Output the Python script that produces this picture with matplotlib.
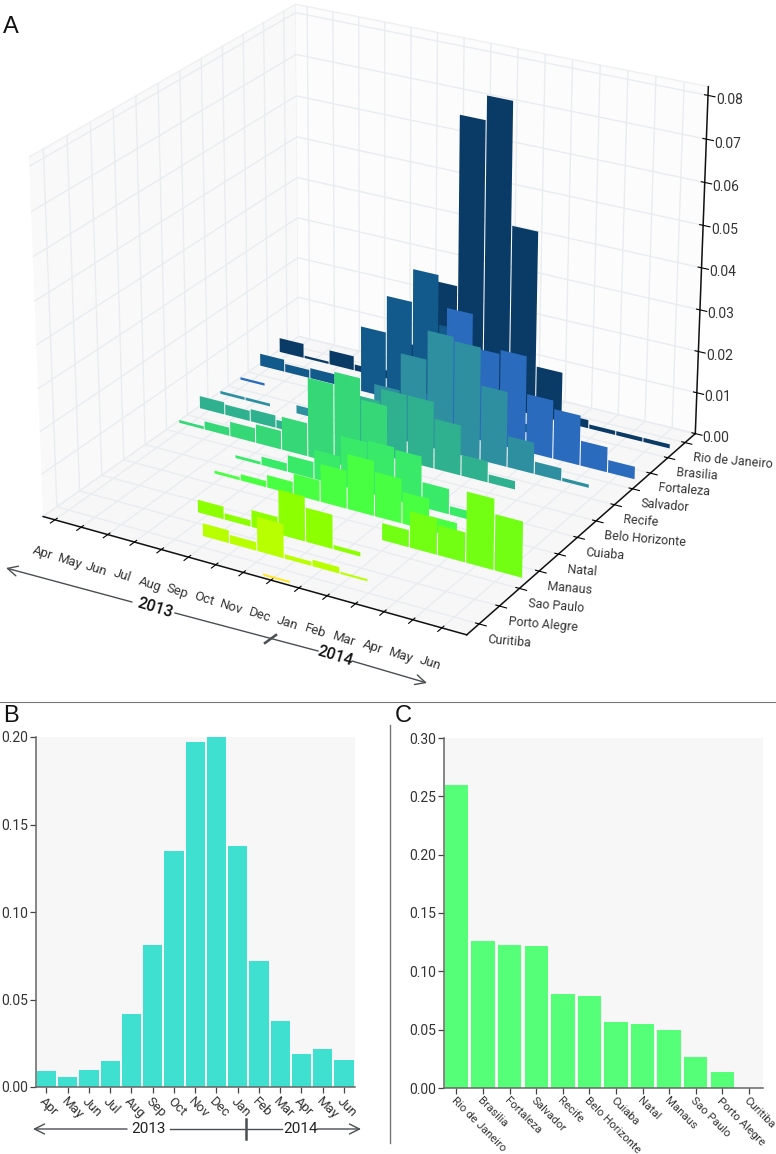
import matplotlib
matplotlib.use("Agg")
from matplotlib import pyplot as plt
from matplotlib.lines import Line2D

plt.rcParams["font.family"] = ["Roboto", "DejaVu Sans"]
plt.rcParams["font.weight"] = "normal"
plt.rcParams["text.color"] = "#333333"
plt.rcParams["xtick.labelcolor"] = "#333333"
plt.rcParams["ytick.labelcolor"] = "#333333"
plt.rcParams["grid.color"] = "#e9edf0"
plt.rcParams["grid.linewidth"] = 1.0

MONTHS = ["Apr", "May", "Jun", "Jul", "Aug", "Sep", "Oct", "Nov", "Dec", "Jan", "Feb", "Mar", "Apr", "May", "Jun"]
CITIES = ["Rio de Janeiro", "Brasilia", "Fortaleza", "Salvador", "Recife", "Belo Horizonte",
          "Cuiaba", "Natal", "Manaus", "Sao Paulo", "Porto Alegre", "Curitiba"]
CITY_COLORS = ["#0a3a66", "#135a8c", "#2a6bbd", "#2e8fa0", "#2fb08e", "#35d777",
               "#38ea68", "#48ff42", "#72ff14", "#8cff00", "#b8ff00", "#ffe830"]

rio = [0.0035, 0.0006, 0.0035, 0.0015, 0.002, 0.01, 0.027, 0.068, 0.0738, 0.0445, 0.012, 0.002, 0.001, 0.001, 0.001]
brasilia = [0.003, 0.002, 0.0025, 0.002, 0.016, 0.025, 0.033, 0.021, 0.012, 0.007, 0.002, 0, 0, 0, 0]
fortaleza = [0.0006, 0, 0, 0, 0, 0, 0, 0.008, 0.03, 0.022, 0.023, 0.014, 0.012, 0.006, 0.003]
salvador = [0.0007, 0.0007, 0, 0.002, 0, 0.003, 0.012, 0.021, 0.028, 0.027, 0.018, 0.0075, 0.003, 0.0008, 0]
recife = [0.003, 0.0025, 0.003, 0.002, 0, 0, 0.013, 0.016, 0.016, 0.012, 0.005, 0.002, 0, 0, 0]
belo = [0.0007, 0.002, 0.0035, 0.0045, 0.008, 0.019, 0.022, 0.017, 0, 0, 0, 0, 0, 0, 0]
cuiaba = [0, 0, 0, 0.0007, 0.002, 0.004, 0.007, 0.012, 0.0125, 0.012, 0.006, 0.002, 0, 0, 0]
natal = [0, 0, 0, 0.0007, 0.0015, 0.003, 0.005, 0.009, 0.013, 0.0105, 0.0075, 0.0035, 0, 0, 0]
manaus = [0, 0, 0, 0, 0, 0, 0, 0, 0, 0, 0.004, 0.0085, 0.007, 0.0165, 0.013]
sao_paulo = [0, 0, 0, 0, 0.003, 0.0015, 0.004, 0.0105, 0.008, 0.001, 0, 0, 0, 0, 0]
porto_alegre = [0, 0, 0, 0, 0, 0.003, 0.002, 0.008, 0.001, 0.0015, 0.0005, 0, 0, 0, 0]
curitiba = [0, 0, 0, 0, 0, 0, 0, 0, 0.0005, 0, 0, 0, 0, 0, 0]
CITY_VALUES = [rio, brasilia, fortaleza, salvador, recife, belo, cuiaba, natal, manaus, sao_paulo, porto_alegre, curitiba]

MONTH_TOTALS = [0.009, 0.006, 0.0095, 0.015, 0.042, 0.081, 0.135, 0.197, 0.2, 0.138, 0.072, 0.038, 0.019, 0.022, 0.0155]
CITY_TOTALS = [0.26, 0.126, 0.123, 0.122, 0.081, 0.079, 0.057, 0.055, 0.05, 0.027, 0.014, 0.0]

W, H = 776, 1154
fig = plt.figure(figsize=(W / 100, H / 100), dpi=100)


def box(x0, y0, x1, y1):
    return [x0 / W, 1 - y1 / H, (x1 - x0) / W, (y1 - y0) / H]


# panel A
ax = fig.add_axes(box(-33.5, -49, 766.5, 671), projection="3d")
ax.computed_zorder = False
ax.patch.set_alpha(0)
ax.view_init(elev=24.3, azim=-60)
ax.set_box_aspect((3.95, 4.05, 3.17), zoom=1.068)
for i, vals in enumerate(CITY_VALUES):
    # bars sit a little off the ticks, as in the source figure
    ax.bar([m + 0.12 for m in range(len(MONTHS))], vals, zs=10.5 - i, zdir="y", width=0.96,
           color=CITY_COLORS[i], zorder=10 + i)
ax.set_xlim(-0.45, 14.85)
ax.set_ylim(-0.6, 11.6)
ax.set_zlim(0, 0.082)
ax.set_xticks(range(len(MONTHS)))
ax.set_xticklabels(MONTHS, rotation=-18, fontsize=9.5)
ax.set_yticks([11 - i for i in range(12)])
ax.set_yticklabels(CITIES, fontsize=9, ha="left", rotation=-5)
ax.set_zticks([0, 0.01, 0.02, 0.03, 0.04, 0.05, 0.06, 0.07, 0.08])
ax.set_zticklabels(["%.2f" % v for v in ax.get_zticks()], fontsize=10)
ax.tick_params(axis="x", pad=4)
ax.tick_params(axis="y", pad=-3)
ax.tick_params(axis="z", pad=1)
for axis, pane in zip([ax.xaxis, ax.yaxis, ax.zaxis], ["#f9f9f9", "#fcfcfc", "#f7f7f7"]):
    axis.set_pane_color(pane)
    axis.pane.set_edgecolor("#eef0f2")
    axis.line.set_color("#111111")
    axis.line.set_linewidth(1.1)

# panel B
ax_b = fig.add_axes(box(36, 737, 355, 1087))
ax_b.bar(range(len(MONTHS)), MONTH_TOTALS, width=0.91, color="#40e0d0")
ax_b.set_xlim(-0.49, 14.52)
ax_b.set_ylim(0, 0.2)
ax_b.set_xticks(range(len(MONTHS)))
ax_b.set_xticklabels(MONTHS, rotation=-45, ha="left", rotation_mode="anchor", fontsize=9.5)
ax_b.set_yticks([0, 0.05, 0.1, 0.15, 0.2])
ax_b.set_yticklabels(["0.00", "0.05", "0.10", "0.15", "0.20"], fontsize=10)

# panel C
ax_c = fig.add_axes(box(444, 738, 763, 1088))
ax_c.bar(range(len(CITIES)), CITY_TOTALS, width=0.88, color="#55ff77")
ax_c.set_xlim(-0.47, 11.53)
ax_c.set_ylim(0, 0.3)
ax_c.set_xticks(range(len(CITIES)))
ax_c.set_xticklabels(CITIES, rotation=-45, ha="left", rotation_mode="anchor", fontsize=8.2)
ax_c.set_yticks([0, 0.05, 0.1, 0.15, 0.2, 0.25, 0.3])
ax_c.set_yticklabels(["0.00", "0.05", "0.10", "0.15", "0.20", "0.25", "0.30"], fontsize=10)

for a in [ax_b, ax_c]:
    a.set_facecolor("#f7f7f7")
    for side in ["top", "right"]:
        a.spines[side].set_visible(False)
    for side in ["bottom", "left"]:
        a.spines[side].set_color("#666666")
        a.spines[side].set_linewidth(1.1)
    a.tick_params(length=4, width=0.9, color="#444444", pad=1.5)

# overlay in pixel coordinates for arrows, dividers and panel letters
over = fig.add_axes([0, 0, 1, 1], zorder=50)
over.set_xlim(0, W)
over.set_ylim(H, 0)
over.axis("off")
GRAY = "#4a4f52"


def arrow(x0, y0, x1, y1):
    over.annotate("", xy=(x1, y1), xytext=(x0, y0),
                  arrowprops=dict(arrowstyle="->", color=GRAY, lw=1.0, mutation_scale=18, shrinkA=0, shrinkB=0))


def seg(x0, y0, x1, y1, color=GRAY, lw=1.0):
    over.add_line(Line2D([x0, x1], [y0, y1], color=color, lw=lw))


seg(0, 702, 776, 702, "#777777", 0.8)
seg(390, 725, 390, 1143, "#777777", 1.0)

arrow(132, 602, 6, 568)
seg(175, 613, 318, 651)
seg(265, 643, 276, 635, GRAY, 1.8)
arrow(352, 661, 427, 683)
over.text(155, 608, "2013", fontsize=11.5, weight="medium", rotation=-17, ha="center", va="center", color="#111111")
over.text(335, 656, "2014", fontsize=11.5, weight="medium", rotation=-17, ha="center", va="center", color="#111111")

arrow(127, 1129, 33, 1129)
seg(170, 1129, 282, 1129)
seg(246, 1119, 246, 1139, GRAY, 1.8)
arrow(317, 1129, 361, 1129)
over.text(148, 1129, "2013", fontsize=11, ha="center", va="center", color="#222222")
over.text(300, 1129, "2014", fontsize=11, ha="center", va="center", color="#222222")

for letter, x, y in [("A", 3, 27), ("B", 3, 716), ("C", 395, 716)]:
    over.text(x, y, letter, fontsize=17, family="Liberation Sans", ha="left", va="center", color="#111111")

fig.savefig("out.png", dpi=100)
